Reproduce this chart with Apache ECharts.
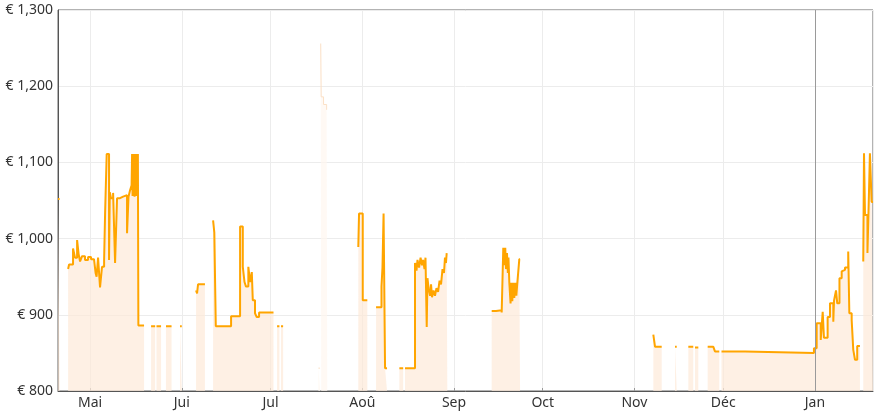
<!DOCTYPE html>
<html><head><meta charset="utf-8">
<script src="https://cdn.jsdelivr.net/npm/echarts@6/dist/echarts.min.js"></script>
<style>html,body{margin:0;padding:0;background:#fff}#c{width:879px;height:413px}</style>
</head><body><div id="c"></div>
<script>
const monthNames = ['Jan','Fév','Mar','Avr','Mai','Jui','Jul','Aoû','Sep','Oct','Nov','Déc'];
const yTicks = [800, 900, 1000, 1100, 1200, 1300];
const axisStart = '2023-04-20 04:00';
const axisEnd = '2024-01-20 15:00';
const nowLine = '2024-01-01 00:00';

const preStart = [['2023-04-20 04:00',1052],['2023-04-20 17:00',null]];
const mayPrices = [
['2023-04-23 14:00',960],['2023-04-23 22:00',966],['2023-04-25 06:00',987],['2023-04-25 22:00',975],['2023-04-26 15:00',998],['2023-04-27 03:00',980],['2023-04-27 15:00',970],['2023-04-28 07:00',977],['2023-04-29 07:00',972],['2023-04-30 08:00',976],['2023-05-01 08:00',973],['2023-05-02 08:00',975],['2023-05-02 21:00',955],['2023-05-03 05:00',950],['2023-05-03 17:00',975],['2023-05-04 09:00',936],['2023-05-05 01:00',963],['2023-05-05 18:00',972],['2023-05-06 02:00',1033],['2023-05-06 15:00',1111],['2023-05-07 10:00',972],['2023-05-07 16:00',1061],['2023-05-08 02:00',1053],['2023-05-08 19:00',1060],['2023-05-09 11:00',968],['2023-05-10 03:00',1053],['2023-05-11 03:00',1055],['2023-05-12 04:00',1057],['2023-05-13 12:00',1007],['2023-05-14 00:00',1055],['2023-05-14 12:00',1063],['2023-05-15 01:00',1070],['2023-05-15 05:00',1111],['2023-05-15 09:00',1056],['2023-05-15 13:00',1111],['2023-05-15 17:00',1058],['2023-05-15 21:00',1111],['2023-05-16 01:00',1055],['2023-05-16 05:00',1111],['2023-05-16 09:00',1057],['2023-05-16 13:00',1111],['2023-05-16 17:00',1056],['2023-05-16 21:00',1111],['2023-05-17 01:00',1058],['2023-05-17 04:00',1111],['2023-05-17 08:00',886],['2023-05-19 06:00',null],
['2023-05-21 15:00',885],['2023-05-23 00:00',null],['2023-05-23 11:00',885],['2023-05-25 00:00',null],['2023-05-26 16:00',885],['2023-05-28 13:00',null],['2023-05-31 10:00',885],['2023-06-01 00:00',null]
];
const junPrices = [
['2023-06-05 20:00',932],['2023-06-06 04:00',928],['2023-06-06 12:00',940],['2023-06-08 20:00',null],
['2023-06-11 14:00',1024],['2023-06-12 00:00',1008],['2023-06-12 12:00',885],['2023-06-17 16:00',898],['2023-06-20 17:00',1016],['2023-06-21 15:00',963],['2023-06-22 05:00',943],['2023-06-22 17:00',937],['2023-06-23 12:00',963],['2023-06-24 02:00',943],['2023-06-24 16:00',956],['2023-06-25 00:00',919],['2023-06-25 18:00',902],['2023-06-26 08:00',897],['2023-06-27 03:00',903],['2023-07-02 00:00',null]
];
const julPrices = [
['2023-07-03 05:00',885],['2023-07-04 00:00',null],['2023-07-04 13:00',885],['2023-07-05 06:00',null],
['2023-07-30 16:00',989],['2023-07-30 22:00',1033],['2023-08-01 04:00',919],['2023-08-02 17:00',null]
];
const augPrices = [
['2023-08-05 16:00',910],['2023-08-07 12:00',937],['2023-08-07 20:00',962],['2023-08-08 05:00',1033],['2023-08-08 17:00',830],['2023-08-09 09:00',null],
['2023-08-13 13:00',830],['2023-08-14 20:00',null],['2023-08-15 11:00',830],['2023-08-18 20:00',968],['2023-08-19 08:00',958],['2023-08-19 16:00',972],['2023-08-20 05:00',962],['2023-08-20 17:00',975],['2023-08-21 05:00',965],['2023-08-21 13:00',972],['2023-08-22 01:00',960],['2023-08-22 09:00',975],['2023-08-22 19:00',884],['2023-08-23 01:00',948],['2023-08-23 10:00',935],['2023-08-23 22:00',925],['2023-08-24 06:00',940],['2023-08-24 14:00',923],['2023-08-25 02:00',932],['2023-08-25 14:00',925],['2023-08-26 02:00',935],['2023-08-26 15:00',930],['2023-08-27 03:00',945],['2023-08-27 15:00',940],['2023-08-28 03:00',960],['2023-08-28 15:00',955],['2023-08-28 23:00',975],['2023-08-29 07:00',968],['2023-08-29 13:00',981],['2023-08-29 18:00',null]
];
const sepPrices = [
['2023-09-13 18:00',905],['2023-09-15 05:00',906],['2023-09-17 03:00',903],['2023-09-17 16:00',988],['2023-09-18 02:00',965],['2023-09-18 08:00',988],['2023-09-18 14:00',960],['2023-09-18 22:00',981],['2023-09-19 05:00',955],['2023-09-19 10:00',975],['2023-09-19 17:00',942],['2023-09-20 03:00',915],['2023-09-20 09:00',942],['2023-09-20 17:00',918],['2023-09-21 01:00',942],['2023-09-21 09:00',922],['2023-09-21 18:00',942],['2023-09-22 02:00',925],['2023-09-22 10:00',942],['2023-09-23 02:00',973],['2023-09-23 08:00',null]
];
const novPrices = [
['2023-11-07 09:00',874],['2023-11-07 23:00',858],['2023-11-10 05:00',null],['2023-11-14 17:00',858],['2023-11-15 07:00',null],['2023-11-19 05:00',858],['2023-11-20 21:00',null],['2023-11-21 11:00',857],['2023-11-22 14:00',null],['2023-11-25 18:00',858],['2023-11-27 16:00',856],['2023-11-28 05:00',852],['2023-11-29 16:00',null],['2023-11-30 10:00',852],['2023-12-08 09:00',850],['2023-12-31 16:00',856]
];
const janPrices = [
['2024-01-01 14:00',889],['2024-01-02 23:00',867],['2024-01-03 15:00',904],['2024-01-04 01:00',870],['2024-01-05 07:00',897],['2024-01-06 02:00',915],['2024-01-07 05:00',891],['2024-01-07 11:00',919],['2024-01-08 03:00',932],['2024-01-08 13:00',915],['2024-01-09 07:00',948],['2024-01-10 01:00',957],['2024-01-10 14:00',959],['2024-01-11 04:00',962],['2024-01-12 06:00',983],['2024-01-12 15:00',902],['2024-01-13 10:00',893],['2024-01-13 23:00',854],['2024-01-14 13:00',841],['2024-01-15 07:00',859],['2024-01-16 05:00',null],
['2024-01-17 08:00',970],['2024-01-17 14:00',1112],['2024-01-17 22:00',1031],['2024-01-18 18:00',981],['2024-01-19 02:00',1031],['2024-01-19 14:00',1112],['2024-01-20 04:00',1048],['2024-01-20 15:00',1048]
];
const spikePrices = [
['2023-07-02 17:00',932],['2023-07-02 21:00',null],
['2023-07-17 04:00',830],['2023-07-17 18:00',null],
['2023-07-17 23:00',1256],['2023-07-18 03:00',1186],['2023-07-18 22:00',1176],['2023-07-19 23:00',1169],['2023-07-20 04:00',null],
['2023-07-23 07:00',948],['2023-07-23 11:00',null],
['2023-09-01 08:00',946],['2023-09-01 10:00',null],
['2023-09-09 11:00',930],['2023-09-09 15:00',null],
['2023-10-06 06:00',968],['2023-10-06 10:00',null]
];

function toStep(points){
  const out=[]; let last=null;
  for(const [t,v] of points){
    if(v===null){ if(last!==null) out.push([t,last]); out.push([t,null]); last=null; }
    else { out.push([t,v]); last=v; }
  }
  return out;
}
const mainData = toStep([].concat(preStart, mayPrices, junPrices, julPrices, augPrices, sepPrices, novPrices, janPrices));
const spikeData = toStep(spikePrices);

const FONT = 'Noto Sans';
const chart = echarts.init(document.getElementById('c'), null, {renderer:'canvas'});
chart.setOption({
  animation:false,
  backgroundColor:'#ffffff',
  grid:{left:58, right:6, top:10, bottom:22, show:true, borderColor:'#666', borderWidth:1, containLabel:false},
  xAxis:{
    type:'time', min:axisStart, max:axisEnd,
    splitNumber:10, minInterval:28*864e5, maxInterval:31*864e5,
    axisLine:{show:true, lineStyle:{color:'#555'}},
    axisTick:{show:true, inside:true, length:3, lineStyle:{color:'#999'}},
    axisLabel:{color:'#333', fontSize:14, fontFamily:FONT, margin:5, hideOverlap:false,
      formatter:function(v){ const d=new Date(v); return d.getDate()===1 ? monthNames[d.getMonth()] : ''; }},
    splitLine:{show:true, lineStyle:{color:'#ececec'}},
    minorTick:{show:false}
  },
  yAxis:{
    type:'value', min:yTicks[0], max:yTicks[yTicks.length-1], interval:100,
    axisLine:{show:true, lineStyle:{color:'#555'}},
    axisTick:{show:false},
    axisLabel:{color:'#333', fontSize:14, fontFamily:FONT, margin:5,
      formatter:function(v){ return '€ ' + String(v).replace(/\B(?=(\d{3})+(?!\d))/g, ','); }},
    splitLine:{show:true, lineStyle:{color:'#ececec'}}
  },
  series:[
    {
      type:'line', name:'spikes', data:spikeData, step:'end', showSymbol:false, connectNulls:false,
      lineStyle:{color:'#FBE0C6', width:1},
      areaStyle:{color:'#FFF7EF', origin:'start'},
      z:1
    },
    {
      type:'line', name:'price', data:mainData, step:'end', showSymbol:false, connectNulls:false,
      lineStyle:{color:'#FFA500', width:2},
      itemStyle:{color:'#FFA500'},
      areaStyle:{color:'#FDEAD8', origin:'start'},
      z:2,
      markLine:{silent:true, symbol:'none', label:{show:false},
        lineStyle:{color:'#9a9a9a', width:1, type:'solid'},
        data:[{xAxis:nowLine}]}
    }
  ]
});
</script></body></html>
